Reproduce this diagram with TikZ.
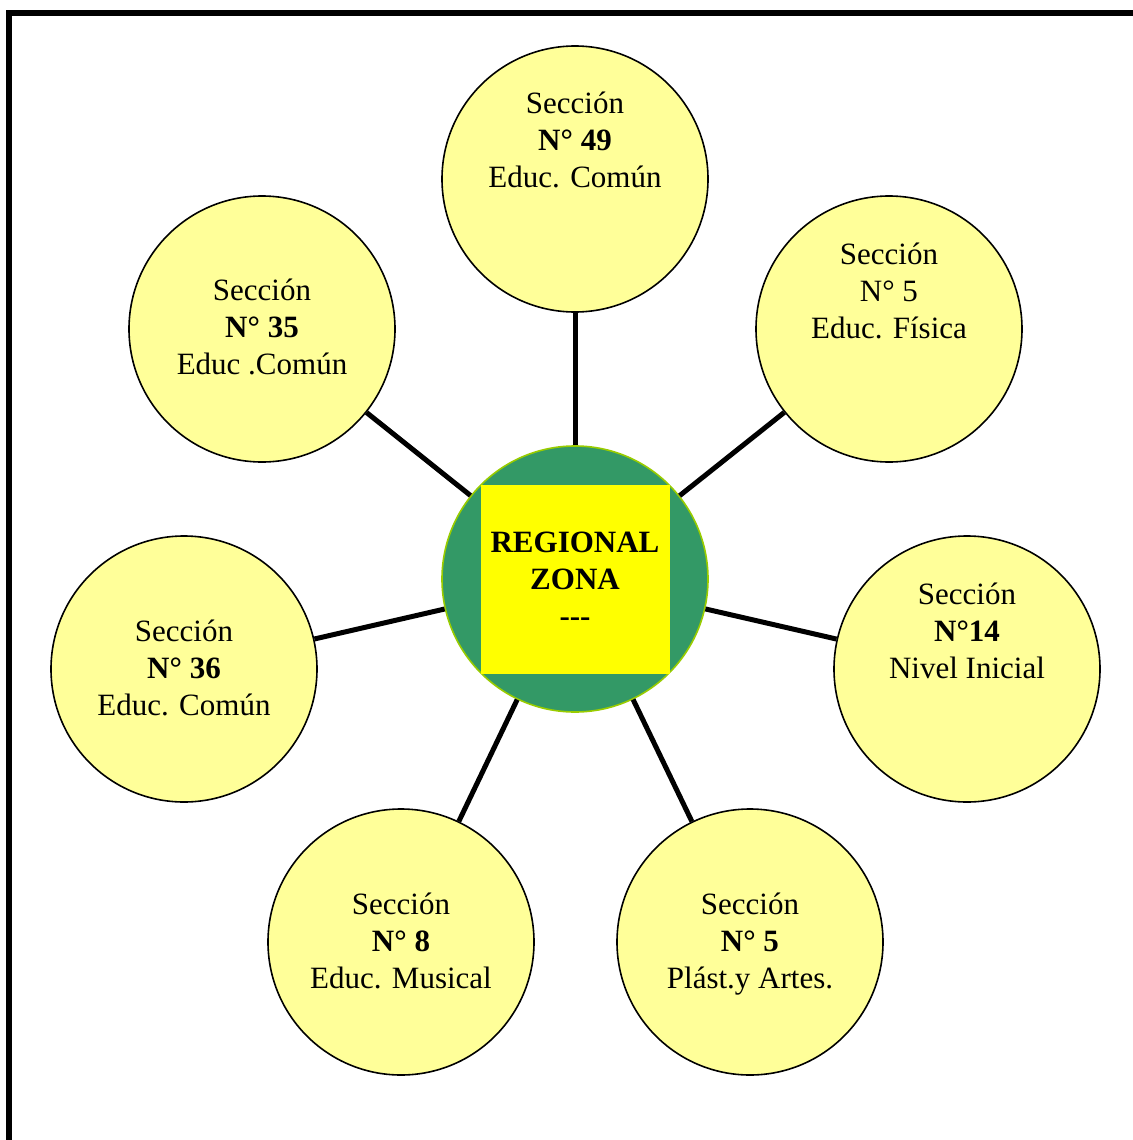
\documentclass[tikz,border=0pt]{standalone}
\usepackage{fontspec}
\setmainfont{Liberation Serif}
\usepackage{tikz}
\usetikzlibrary{positioning,shapes}
\definecolor{secfill}{HTML}{FFFF99}
\definecolor{zonegreen}{HTML}{339966}
\definecolor{zoneedge}{HTML}{99CC00}
\definecolor{zoneyellow}{HTML}{FFFF00}
\tikzset{
    %Define style for the sections
    seccion/.style={
   	circle,
   	draw=black, line width=1.6pt,
   	minimum size=266pt,
   	inner sep=0pt,
   	fill=secfill
   },
   %text inside the circles
   rotulo/.style={
   	align=center,
   	inner sep=0pt,
   	font=\fontsize{31}{37}\selectfont
   },
   % Define the central node
   regional/.style={
   	circle,
   	draw=zoneedge, line width=1.6pt,
   	minimum size=266pt,
   	inner sep=0pt,
   	fill=zonegreen
   },
   cuadro/.style={
   	rectangle,
   	minimum size=189pt,
   	inner sep=0pt,
   	fill=zoneyellow
   }
}

\begin{document}
\begin{tikzpicture}[x=1pt,y=-1pt,line width=5pt]
		\useasboundingbox (0,0) rectangle (1132,1140);
		%frame
		\draw[line width=6pt] (9,1145) -- (9,13) -- (1140,13);
		%nodes
		\node[regional](zona) at (575,579){};
		\node[cuadro](caja) at (575,579){};
		\node[rotulo, font=\fontsize{31}{37}\selectfont\bfseries](tzona) at (575,579){REGIONAL\\ZONA\\{-}{-}{-}};
		\node[seccion](s49) at (575,179){};
		\node[seccion](s5f) at (889,329){};
		\node[seccion](s14) at (967,669){};
		\node[seccion](s5p) at (750,942){};
		\node[seccion](s8) at (401,942){};
		\node[seccion](s36) at (184,669){};
		\node[seccion](s35) at (262,329){};
		%texts
		\node[rotulo](t49) at (575,140){Sección\\\textbf{N° 49}\\Educ. Común};
		\node[rotulo](t5f) at (889,291){Sección\\N° 5\\Educ. Física};
		\node[rotulo](t14) at (967,631){Sección\\\textbf{N°14}\\Nivel Inicial};
		\node[rotulo](t5p) at (750,944){Sección\\\textbf{N° 5}\\Plást.y Artes.};
		\node[rotulo](t8) at (401,941){Sección\\\textbf{N° 8}\\Educ. Musical};
		\node[rotulo](t36) at (184,668){Sección\\\textbf{N° 36}\\Educ. Común};
		\node[rotulo](t35) at (262,327){Sección\\\textbf{N° 35}\\Educ .Común};
		%connectors
		\path[draw=black]
		(zona) edge (s49)
		(zona) edge (s5f)
		(zona) edge (s14)
		(zona) edge (s5p)
		(zona) edge (s8)
		(zona) edge (s36)
		(zona) edge (s35);
		\end{tikzpicture}
\end{document}
